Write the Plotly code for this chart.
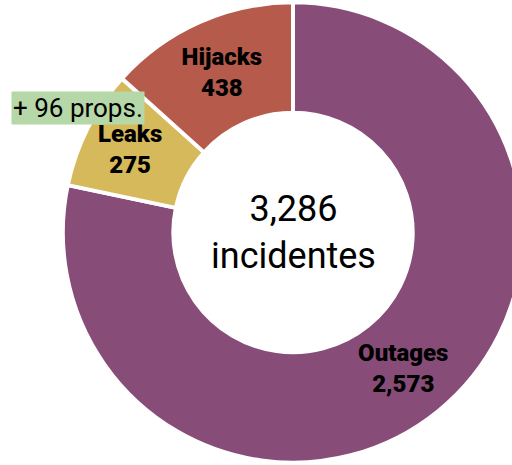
import plotly.graph_objects as go

# Incident categories and counts
categories = ["Outages", "Leaks", "Hijacks"]
counts = [2573, 275, 438]
slice_colors = ["#874C78", "#D6B95B", "#B65B4C"]

total_label = "3,286<br>incidentes"
extra_label = "+ 96 props."

fig = go.Figure(
    go.Pie(
        labels=categories,
        values=counts,
        sort=False,
        direction="clockwise",
        rotation=0,
        hole=0.52,
        marker=dict(colors=slice_colors, line=dict(color="white", width=4)),
        texttemplate="%{label}<br>%{value:,}",
        textposition="inside",
        insidetextorientation="horizontal",
        insidetextfont=dict(
            family="Roboto, sans-serif",
            size=24,
            weight=900,
            color="black",
        ),
        showlegend=False,
        hoverinfo="label+value",
        domain=dict(x=[0, 1], y=[0.005, 0.995]),
    )
)

# Total in the middle of the ring
fig.add_annotation(
    x=0.5, y=0.5, xref="paper", yref="paper",
    xanchor="center", yanchor="middle",
    text=total_label, showarrow=False,
    font=dict(family="Roboto, sans-serif", size=36, color="black"),
)

# Highlighted note beside the small slices
fig.add_annotation(
    x=77.5 / 586, y=1 - 107.5 / 465, xref="paper", yref="paper",
    xanchor="center", yanchor="middle",
    text=extra_label, showarrow=False,
    bgcolor="#B6D7A8", borderpad=1,
    font=dict(family="Roboto, sans-serif", size=26, color="black"),
)

fig.update_layout(
    width=586,
    height=465,
    margin=dict(l=0, r=0, t=0, b=0),
    paper_bgcolor="white",
    plot_bgcolor="white",
)

fig.write_html(
    "out.html",
    post_script=(
        "document.documentElement.style.overflow='hidden';"
        "document.body.style.overflow='hidden';"
        "document.body.style.margin='0';"
    ),
)
